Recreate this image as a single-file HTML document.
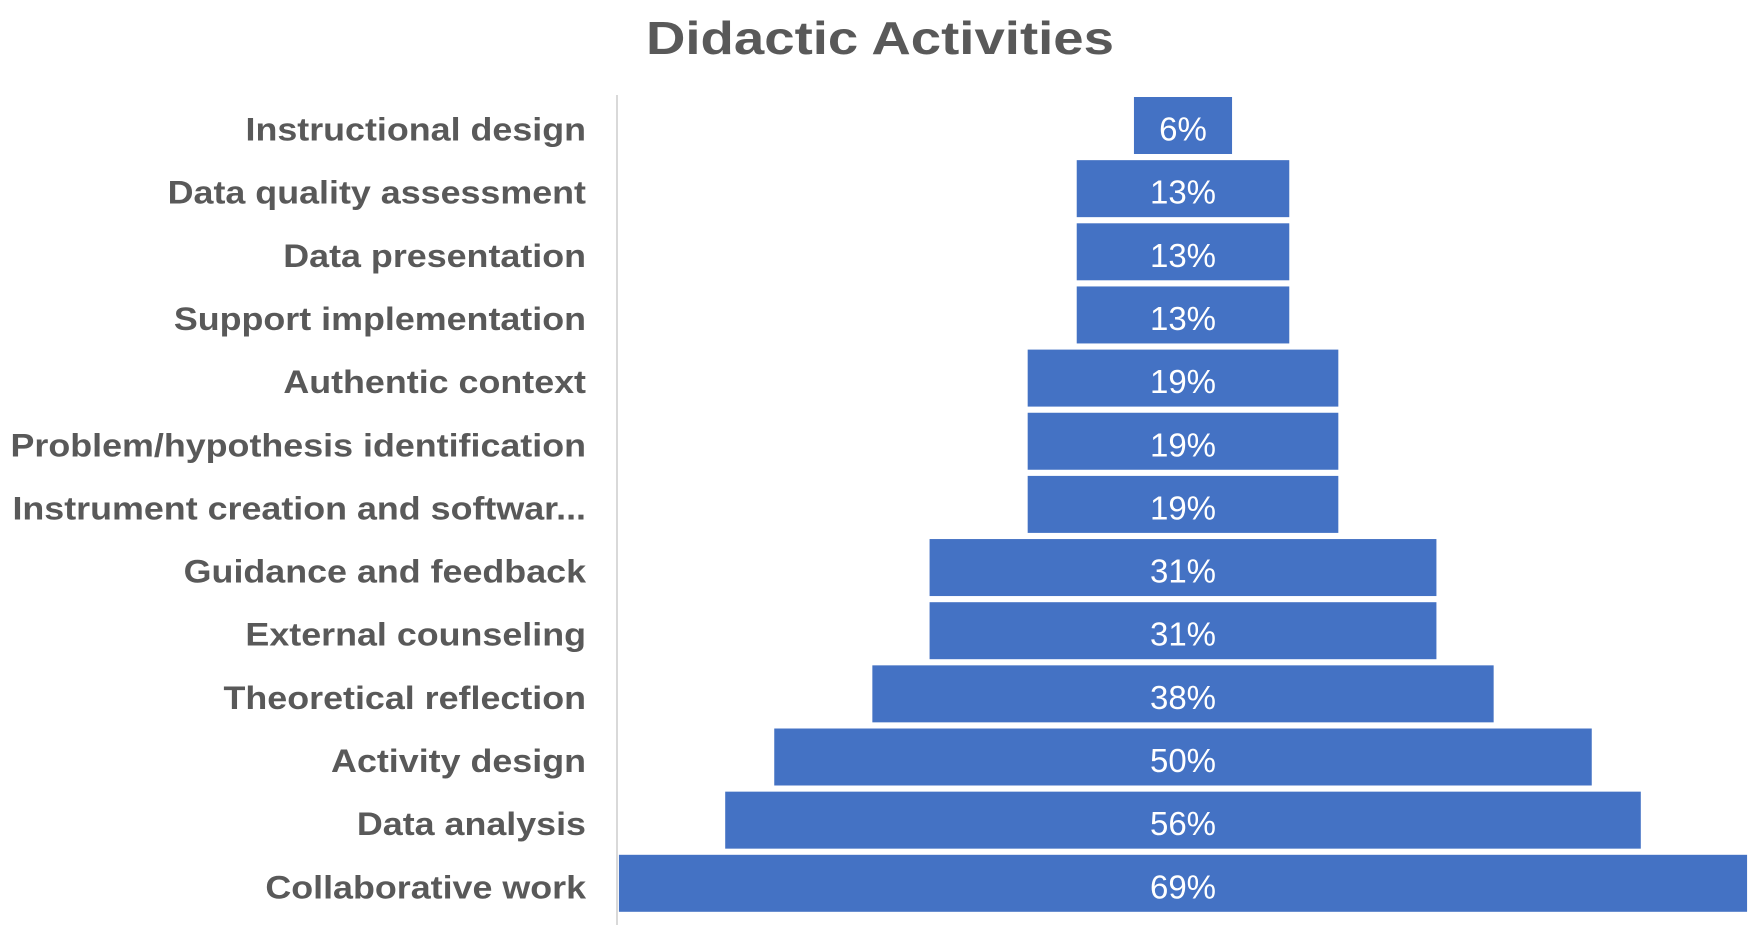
<!DOCTYPE html>
<html><head><meta charset="utf-8"><style>
html,body{margin:0;padding:0;background:#fff;}
svg{display:block;font-family:"Liberation Sans",sans-serif;}
</style></head><body>
<svg id="chart" width="1756" height="927" viewBox="0 0 1756 927">
<text x="880" y="54" text-anchor="middle" font-size="46" font-weight="bold" fill="#595959" textLength="468" lengthAdjust="spacingAndGlyphs">Didactic Activities</text>
<line x1="617" y1="95" x2="617" y2="925" stroke="#d9d9d9" stroke-width="2"/>
<g id="bars"></g>
</svg>
<script>
const categories = ["Instructional design","Data quality assessment","Data presentation","Support implementation","Authentic context","Problem/hypothesis identification","Instrument creation and softwar...","Guidance and feedback","External counseling","Theoretical reflection","Activity design","Data analysis","Collaborative work"];
const values = [6,13,13,13,19,19,19,31,31,38,50,56,69];
const valueLabels = ["6%","13%","13%","13%","19%","19%","19%","31%","31%","38%","50%","56%","69%"];

const NS = "http://www.w3.org/2000/svg";
const centerX = 1183, pxPerUnit = 16.35, top0 = 97, pitch = 63.15, barH = 57;
const xw = v => v * pxPerUnit;
const yRow = i => top0 + i * pitch;
const g = document.getElementById("bars");
categories.forEach((c, i) => {
  const w = xw(values[i]);
  const y = yRow(i);
  const r = document.createElementNS(NS, "rect");
  
  
  r.setAttribute("x", centerX - w / 2);
  r.setAttribute("y", y);
  r.setAttribute("width", w);
  r.setAttribute("height", barH);
  r.setAttribute("fill", "#4472C4");
  g.appendChild(r);
  const t = document.createElementNS(NS, "text");
  
  
  t.setAttribute("x", centerX);
  t.setAttribute("y", y + barH / 2 + 15);
  t.setAttribute("text-anchor", "middle");
  t.setAttribute("font-size", "33");
  t.setAttribute("fill", "#ffffff");
  t.textContent = valueLabels[i];
  g.appendChild(t);
  const l = document.createElementNS(NS, "text");
  
  
  l.setAttribute("x", 586);
  l.setAttribute("y", y + barH / 2 + 15);
  l.setAttribute("text-anchor", "end");
  l.setAttribute("font-size", "32");
  l.setAttribute("font-weight", "bold");
  l.setAttribute("fill", "#595959");
  l.textContent = c;
  g.appendChild(l);
  const natural = l.getComputedTextLength();
  l.setAttribute("textLength", Math.min(natural * 1.12, 578));
  l.setAttribute("lengthAdjust", "spacingAndGlyphs");
});
</script>
</body></html>
